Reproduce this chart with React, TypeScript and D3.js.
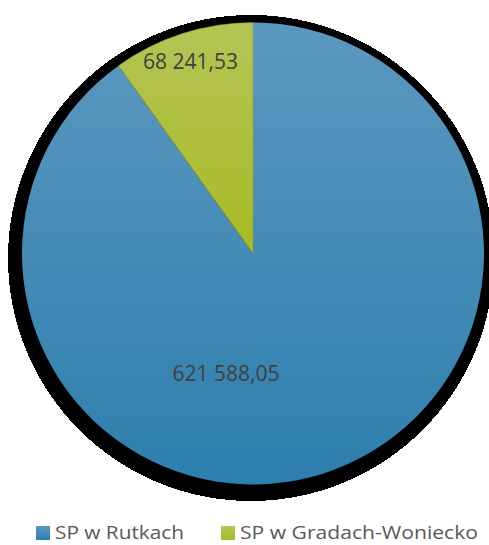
import React from "react";
import * as d3 from "d3";

const categories = ["SP w Rutkach", "SP w Gradach-Woniecko"];
const values = [621588.05, 68241.53];
const labels = ["621 588,05", "68 241,53"];

const W = 489;
const H = 545;

export default function App() {
  const cx = 253;
  const cy = 253.5;
  const r = 231;
  const pie = d3.pie<number>().sort(null).startAngle(0).endAngle(2 * Math.PI);
  const arcs = pie(values);
  const arc = d3.arc<d3.PieArcDatum<number>>().innerRadius(0).outerRadius(r);
  const grads = ["gBlue", "gGreen"];
  const labelW = [107, 95];
  const labelXY: [number, number][] = [
    [226, 373.5],
    [190.5, 61],
  ];
  const legendX = [36, 221];
  const legendTW = [129, 238];
  return (
    <svg width={W} height={H} style={{ position: "absolute", left: 0, top: 0 }}>
      <defs>
        <linearGradient id="gBlue" x1="0" y1="0" x2="0" y2="1">
          <stop offset="0" stopColor="#5c98c0" />
          <stop offset="1" stopColor="#2d7fad" />
        </linearGradient>
        <linearGradient id="gGreen" x1="0" y1="0" x2="0" y2="1">
          <stop offset="0" stopColor="#b4c455" />
          <stop offset="1" stopColor="#a8bb24" />
        </linearGradient>
      </defs>
      <circle cx={251} cy={258} r={243} fill="#000" shapeRendering="crispEdges" />
      <g transform={`translate(${cx},${cy})`}>
        {arcs.map((a, i) => (
          <path key={i} d={arc(a) || ""} fill={`url(#${grads[i]})`} stroke={i === 1 ? "#8f9f1c" : "none"} strokeWidth={0.5} />
        ))}
      </g>
      {arcs.map((a, i) => (
        <text
          key={"t" + i}
          x={labelXY[i][0]}
          y={labelXY[i][1]}
          dy="0.36em"
          textAnchor="middle"
          fontFamily="'Open Sans', 'Noto Sans', sans-serif"
          fontSize={22}
          fill="#404040"
          textLength={labelW[i]}
          lengthAdjust="spacingAndGlyphs"
        >
          {labels[i]}
        </text>
      ))}
      {categories.map((c, i) => (
        <g key={"l" + i}>
          <rect x={legendX[i]} y={526} width={14} height={14} fill={`url(#${grads[i]})`} />
          <text
            x={legendX[i] + 19}
            y={539}
            fontFamily="'Open Sans', 'Noto Sans', sans-serif"
            fontSize={18}
            fill="#595959"
            textLength={legendTW[i]}
            lengthAdjust="spacingAndGlyphs"
          >
            {c}
          </text>
        </g>
      ))}
    </svg>
  );
}
